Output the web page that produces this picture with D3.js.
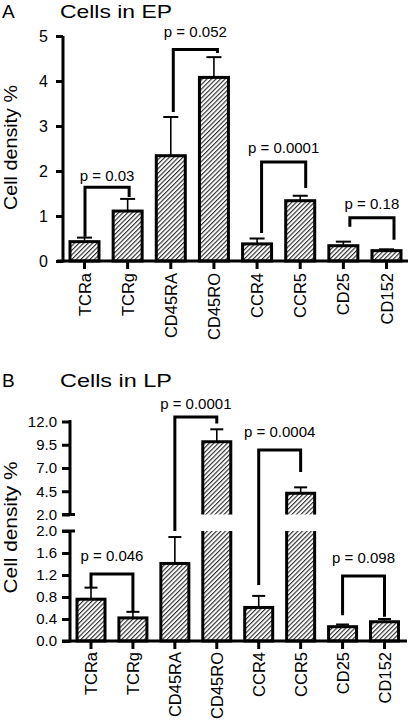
<!DOCTYPE html>
<html><head><meta charset="utf-8">
<script src="https://cdn.jsdelivr.net/npm/d3@7"></script>
<style>
body{margin:0;background:#fff}
text{font-family:"Liberation Sans",Arial,Helvetica,sans-serif;fill:#000}
</style>
</head><body>
<svg id="c" width="411" height="722"></svg>
<script>
// ---------- data ----------
const categories = ["TCRa","TCRg","CD45RA","CD45RO","CCR4","CCR5","CD25","CD152"];
const epMeans = [0.43, 1.11, 2.34, 4.08, 0.38, 1.34, 0.34, 0.23];
const epSem   = [0.09, 0.27, 0.86, 0.45, 0.12, 0.11, 0.09, 0.03];
const lpMeans = [0.76, 0.42, 1.41, 9.83, 0.61, 4.28, 0.26, 0.35];
const lpSem   = [0.21, 0.11, 0.48, 1.33, 0.21, 0.64, 0.04, 0.05];
const epTicks = [0, 1, 2, 3, 4, 5];
const lpTicksLow = [0.0, 0.4, 0.8, 1.2, 1.6, 2.0];
const lpTicksHigh = [2.0, 4.5, 7.0, 9.5, 12.0];
// comparison brackets: bar indices, bracket height, leg end values, label, label height (data units)
const epBrackets = [
  {a:0, b:1, top:1.64, endA:0.54, endB:1.42, label:"p = 0.03",   labelY:1.78},
  {a:2, b:3, top:4.70, endA:3.31, endB:4.62, label:"p = 0.052",  labelY:4.97},
  {a:4, b:5, top:2.20, endA:0.62, endB:1.62, label:"p = 0.0001", labelY:2.41},
  {a:6, b:7, top:0.96, endA:0.76, endB:0.47, label:"p = 0.18",   labelY:1.16}
];
const lpBrackets = [
  {a:0, b:1, top:1.22,  endA:0.98, endB:0.53,  label:"p = 0.046",  labelY:1.46},
  {a:2, b:3, top:12.48, endA:2.00, endB:11.78, label:"p = 0.0001", labelY:13.34},
  {a:4, b:5, top:8.94,  endA:1.02, endB:6.57,  label:"p = 0.0004", labelY:10.37},
  {a:6, b:7, top:1.18,  endA:0.47, endB:0.44,  label:"p = 0.098",  labelY:1.42}
];

// ---------- setup ----------
const svg = d3.select("#c");
const defs = svg.append("defs");
const hs = 3.2;
const pat = defs.append("pattern").attr("id","hatch")
  .attr("patternUnits","userSpaceOnUse").attr("width",hs).attr("height",hs)
  .attr("patternTransform","rotate(45)");
pat.append("rect").attr("width",hs).attr("height",hs).attr("fill","#fff");
pat.append("line").attr("x1",0.6).attr("y1",0).attr("x2",0.6).attr("y2",hs)
  .attr("stroke","#111").attr("stroke-width",1.0);

const fs = {title:19, tick:16, cat:16.5, p:15};

function drawTitle(letter, title, baseY){
  svg.append("text").attr("x",2).attr("y",baseY).attr("font-size",fs.title).text(letter);
  svg.append("text").attr("x",60).attr("y",baseY).attr("font-size",fs.title)
    .attr("textLength",112).attr("lengthAdjust","spacingAndGlyphs").text(title);
}
function drawYLabel(cy, len){
  svg.append("text").attr("transform",`translate(17,${cy}) rotate(-90)`)
    .attr("text-anchor","middle").attr("font-size",17.5)
    .attr("textLength",len).attr("lengthAdjust","spacingAndGlyphs").text("Cell density %");
}
function drawBrackets(g, list, xs, yf){
  list.forEach(d=>{
    const xa = xs(categories[d.a]), xb = xs(categories[d.b]);
    g.append("path").attr("fill","none").attr("stroke","#000").attr("stroke-width",3)
      .attr("d",`M${xa},${yf(d.endA)}V${yf(d.top)}H${xb}V${yf(d.endB)}`);
    g.append("text").attr("x",(xa+xb)/2).attr("y",yf(d.labelY))
      .attr("text-anchor","middle").attr("font-size",fs.p).text(d.label);
  });
}
function drawErrors(g, means, sem, xs, yf, cap){
  categories.forEach((c,i)=>{
    const x = xs(c);
    g.append("line").attr("x1",x).attr("x2",x).attr("y1",yf(means[i])).attr("y2",yf(means[i]+sem[i]))
      .attr("stroke","#000").attr("stroke-width",1.6);
    g.append("line").attr("x1",x-cap/2).attr("x2",x+cap/2).attr("y1",yf(means[i]+sem[i])).attr("y2",yf(means[i]+sem[i]))
      .attr("stroke","#000").attr("stroke-width",2);
  });
}
function drawCatLabels(g, xs, y0){
  g.selectAll(null).data(categories).enter().append("text")
    .attr("transform",d=>`translate(${xs(d)+6},${y0}) rotate(-90)`)
    .attr("text-anchor","end").attr("font-size",fs.cat).text(d=>d);
}

// ---------- Panel A ----------
{
  const gA = svg.append("g");
  drawTitle("A","Cells in EP",17.5);
  drawYLabel(147.5, 125);
  const x = d3.scalePoint().domain(categories).range([84.5,386.5]);
  const xBr = d3.scalePoint().domain(categories).range([85,394]);
  const y = d3.scaleLinear().domain([0,5]).range([261,36]);
  const bw = 29;
  gA.selectAll("rect.bar").data(epMeans).enter().append("rect")
    .attr("x",(d,i)=>x(categories[i])-bw/2).attr("width",bw)
    .attr("y",d=>y(d)).attr("height",d=>y(0)-y(d))
    .attr("fill","url(#hatch)").attr("stroke","#000").attr("stroke-width",3);
  drawErrors(gA, epMeans, epSem, x, y, 15);
  drawBrackets(gA, epBrackets, xBr, y);
  const ya = gA.append("g").attr("transform","translate(63,0)")
    .call(d3.axisLeft(y).tickValues(epTicks).tickSize(7).tickPadding(8).tickFormat(d3.format("d")));
  ya.select(".domain").attr("stroke-width",3).attr("d",`M0,${y(0)+1.5}V${y(5)}`);
  ya.selectAll(".tick line").attr("stroke-width",3);
  ya.selectAll(".tick text").attr("font-size",fs.tick).attr("font-family",null);
  gA.append("line").attr("x1",57).attr("x2",408).attr("y1",y(0)).attr("y2",y(0))
    .attr("stroke","#000").attr("stroke-width",3);
  gA.selectAll("line.xt").data(categories).enter().append("line")
    .attr("x1",d=>x(d)).attr("x2",d=>x(d)).attr("y1",y(0)).attr("y2",y(0)+8)
    .attr("stroke","#000").attr("stroke-width",3);
  drawCatLabels(gA, x, 273);
}

// ---------- Panel B ----------
{
  const gB = svg.append("g");
  drawTitle("B","Cells in LP",386.5);
  drawYLabel(527.5, 132);
  const x = d3.scalePoint().domain(categories).range([91,384.5]);
  const yLo = d3.scaleLinear().domain([0,2]).range([641,531]);
  const yHi = d3.scaleLinear().domain([2,12]).range([514.5,421.5]);
  const yf = v => v <= 2 ? yLo(v) : yHi(v);
  const bw = 28;
  categories.forEach((c,i)=>{
    const v = lpMeans[i], x0 = x(c)-bw/2, x1 = x(c)+bw/2;
    if (v <= 2){
      gB.append("rect").attr("x",x0).attr("width",bw).attr("y",yLo(v)).attr("height",yLo(0)-yLo(v))
        .attr("fill","url(#hatch)").attr("stroke","#000").attr("stroke-width",3);
    } else {
      gB.append("rect").attr("x",x0).attr("width",bw).attr("y",yHi(v)).attr("height",yHi(2)-yHi(v))
        .attr("fill","url(#hatch)");
      gB.append("rect").attr("x",x0).attr("width",bw).attr("y",yLo(2)).attr("height",yLo(0)-yLo(2))
        .attr("fill","url(#hatch)");
      gB.append("path").attr("fill","none").attr("stroke","#000").attr("stroke-width",3)
        .attr("d",`M${x0},${yHi(2)}V${yHi(v)}H${x1}V${yHi(2)}M${x0},${yLo(2)}V${yLo(0)}H${x1}V${yLo(2)}`);
    }
  });
  drawErrors(gB, lpMeans, lpSem, x, yf, 13);
  drawBrackets(gB, lpBrackets, x, yf);
  const fmt = d3.format(".1f");
  const yaL = gB.append("g").attr("transform","translate(70,0)")
    .call(d3.axisLeft(yLo).tickValues(lpTicksLow).tickSize(8).tickPadding(5).tickFormat(fmt));
  yaL.select(".domain").attr("stroke-width",3).attr("d",`M0,${yLo(0)+1.5}V${yLo(2)}`);
  const yaH = gB.append("g").attr("transform","translate(70,0)")
    .call(d3.axisLeft(yHi).tickValues(lpTicksHigh).tickSize(8).tickPadding(5).tickFormat(fmt));
  yaH.select(".domain").attr("stroke-width",3).attr("d",`M0,${yHi(2)}V${yHi(12)-1.5}`);
  [yaL,yaH].forEach(a=>{
    a.selectAll(".tick line").attr("stroke-width",3);
    a.selectAll(".tick text").attr("font-size",fs.p).attr("font-family",null);
  });
  gB.append("line").attr("x1",62).attr("x2",75).attr("y1",yHi(2)).attr("y2",yHi(2)).attr("stroke","#000").attr("stroke-width",3);
  gB.append("line").attr("x1",62).attr("x2",75).attr("y1",yLo(2)).attr("y2",yLo(2)).attr("stroke","#000").attr("stroke-width",3);
  gB.append("line").attr("x1",62).attr("x2",407).attr("y1",yLo(0)).attr("y2",yLo(0))
    .attr("stroke","#000").attr("stroke-width",3);
  gB.selectAll("line.xt").data(categories).enter().append("line")
    .attr("x1",d=>x(d)).attr("x2",d=>x(d)).attr("y1",yLo(0)).attr("y2",yLo(0)+8)
    .attr("stroke","#000").attr("stroke-width",3);
  drawCatLabels(gB, x, 652);
}
</script>
</body></html>
